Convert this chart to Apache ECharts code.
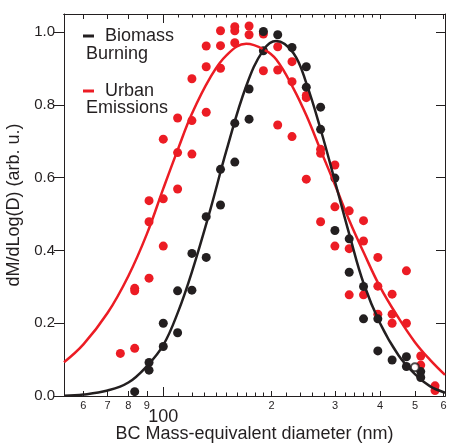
<!DOCTYPE html>
<html>
<head>
<meta charset="utf-8">
<script src="https://cdn.jsdelivr.net/npm/echarts@6/dist/echarts.min.js"></script>
<style>
  html, body { margin: 0; padding: 0; background: #fff; }
  #chart { width: 449px; height: 443px; }
</style>
</head>
<body>
<div id="chart"></div>
<script>
// size-bin centres (nm) and normalised mass values
const blackD = [83.3, 91.3, 91.3, 100, 100, 109.6, 109.6, 120.1, 120.1, 131.6, 131.6, 144.2, 144.2,
  158, 158, 173.1, 173.1, 189.7, 189.7, 207.9, 227.8, 249.6, 249.6, 273.5, 273.5, 299.7, 299.7,
  328.4, 328.4, 359.9, 359.9, 394.4, 394.4, 432.1, 473.5, 473.5, 518.9, 518.9]
const blackV = [0.012, 0.092, 0.071, 0.136, 0.200, 0.174, 0.289, 0.291, 0.392, 0.381, 0.493, 0.525, 0.623,
  0.643, 0.750, 0.761, 0.844, 0.949, 1.002, 0.993, 0.958, 0.905, 0.849, 0.794, 0.733, 0.599, 0.455,
  0.432, 0.340, 0.301, 0.212, 0.212, 0.124, 0.099, 0.108, 0.081, 0.067, 0.051]

const redD = [76.0, 83.3, 83.3, 83.3, 91.3, 91.3, 91.3, 100, 100, 100, 109.6, 109.6, 109.6,
  120.1, 120.1, 120.1, 131.6, 131.6, 131.6, 144.2, 144.2, 144.2, 158, 158, 158, 173.1, 173.1,
  189.7, 189.7, 207.9, 207.9, 207.9, 227.8, 227.8, 227.8, 249.6, 249.6, 249.6, 273.5, 273.5, 273.5,
  299.7, 299.7, 299.7, 328.4, 328.4, 328.4, 359.9, 359.9, 359.9, 394.4, 394.4, 394.4,
  432.1, 432.1, 432.1, 473.5, 473.5, 518.9, 518.9, 568.6, 568.6]
const redV = [0.117, 0.131, 0.289, 0.296, 0.324, 0.479, 0.537, 0.412, 0.542, 0.706, 0.569, 0.669, 0.764,
  0.665, 0.757, 0.872, 0.780, 0.905, 0.962, 0.901, 0.963, 1.004, 0.971, 1.004, 1.015, 0.993, 1.017,
  0.894, 0.995, 0.745, 0.896, 0.960, 0.713, 0.864, 0.919, 0.596, 0.820, 0.826, 0.479, 0.667, 0.678,
  0.412, 0.520, 0.635, 0.278, 0.405, 0.509, 0.278, 0.426, 0.482, 0.225, 0.302, 0.381,
  0.200, 0.225, 0.280, 0.200, 0.344, 0.085, 0.110, 0.015, 0.028]

// open marker
const openD = [500]
const openV = [0.079]

// fitted curves, read at these diameters
const fitD = [53, 60, 70, 80, 90, 100, 110, 120, 135, 150, 170, 190, 206, 230, 250, 275, 300, 330, 360, 400, 450, 500, 550, 606]
const blackFit = [0.001, 0.004, 0.015, 0.037, 0.082, 0.140, 0.232, 0.340, 0.511, 0.677, 0.852, 0.952, 0.976, 0.942, 0.858, 0.725, 0.589, 0.438, 0.310, 0.200, 0.112, 0.060, 0.027, 0.009]
const redFit = [0.093, 0.142, 0.228, 0.330, 0.445, 0.570, 0.680, 0.775, 0.875, 0.937, 0.968, 0.953, 0.925, 0.845, 0.770, 0.670, 0.580, 0.478, 0.395, 0.300, 0.215, 0.148, 0.100, 0.058]

// axis ticks
const majorTicks = [60, 70, 80, 90, 200, 300, 400, 500, 600]
const centreTick = [100]
const minorTicks = [110, 120, 130, 140, 150, 160, 170, 180, 190, 220, 240, 260, 280, 320, 340, 360, 380]
const yTicks = [0, 0.2, 0.4, 0.6, 0.8, 1.0]

const ink = '#231f20'
const red = '#ec1c24'
const font = 'Liberation Sans, Arial, Helvetica, sans-serif'

const chart = echarts.init(document.getElementById('chart'))

function xAxisDef(position, ticks, len, label) {
  return {
    type: 'log',
    logBase: 10,
    min: 53,
    max: 606,
    position: position,
    gridIndex: 0,
    splitLine: { show: false },
    minorTick: { show: false },
    axisLine: { show: true, onZero: false, lineStyle: { color: ink, width: 1 } },
    axisTick: { show: true, inside: true, length: len, customValues: ticks, lineStyle: { color: ink, width: 1 } },
    axisLabel: label || { show: false }
  }
}

const pairs = (xs, ys) => xs.map((x, i) => [x, ys[i]])

const option = {
  animation: false,
  backgroundColor: '#fff',
  textStyle: { fontFamily: font },
  grid: { left: 64, right: 4, top: 14, bottom: 47, containLabel: false, outerBoundsMode: 'none' },
  xAxis: [
    Object.assign(xAxisDef('bottom', majorTicks, 5, {
      show: true,
      customValues: majorTicks,
      margin: 4,
      fontSize: 11,
      color: ink,
      fontFamily: font,
      formatter: (v) => String(Math.round(v / Math.pow(10, Math.floor(Math.log10(v) + 1e-9))))
    }), {
      name: 'BC Mass-equivalent diameter (nm)',
      nameLocation: 'middle',
      nameGap: 29,
      nameTextStyle: { fontSize: 18, color: ink, fontFamily: font }
    }),
    xAxisDef('bottom', centreTick, 9, {
      show: true,
      customValues: centreTick,
      margin: 12,
      fontSize: 18,
      color: ink,
      fontFamily: font
    }),
    xAxisDef('bottom', minorTicks, 3.5),
    xAxisDef('top', majorTicks, 5),
    xAxisDef('top', centreTick, 9),
    xAxisDef('top', minorTicks, 3.5)
  ],
  yAxis: [
    {
      type: 'value',
      min: 0,
      max: 1.05,
      position: 'left',
      splitLine: { show: false },
      axisLine: { show: true, lineStyle: { color: ink, width: 1 } },
      axisTick: { show: true, inside: false, length: 10, customValues: yTicks, lineStyle: { color: ink, width: 1 } },
      axisLabel: {
        customValues: yTicks,
        margin: 9,
        fontSize: 15,
        color: ink,
        fontFamily: font,
        formatter: (v) => v.toFixed(1)
      },
      name: 'dM/dLog(D) (arb. u.)',
      nameLocation: 'middle',
      nameRotate: 90,
      nameGap: 25,
      nameTextStyle: { fontSize: 18, color: ink, fontFamily: font }
    },
    {
      type: 'value',
      min: 0,
      max: 1.05,
      position: 'right',
      splitLine: { show: false },
      axisLine: { show: true, lineStyle: { color: ink, width: 1 } },
      axisTick: { show: true, inside: true, length: 9, customValues: yTicks, lineStyle: { color: ink, width: 1 } },
      axisLabel: { show: false }
    }
  ],
  graphic: [
    { type: 'line', shape: { x1: 83, y1: 36, x2: 94, y2: 36 }, style: { stroke: ink, lineWidth: 3 } },
    { type: 'text', left: 105, top: 27, style: { text: 'Biomass', fill: ink, font: '18px ' + font } },
    { type: 'text', left: 86, top: 45, style: { text: 'Burning', fill: ink, font: '18px ' + font } },
    { type: 'line', shape: { x1: 83, y1: 91, x2: 94, y2: 91 }, style: { stroke: red, lineWidth: 3 } },
    { type: 'text', left: 105, top: 82, style: { text: 'Urban', fill: ink, font: '18px ' + font } },
    { type: 'text', left: 86, top: 99, style: { text: 'Emissions', fill: ink, font: '18px ' + font } }
  ],
  series: [
    {
      name: 'Urban Emissions',
      type: 'scatter',
      data: pairs(redD, redV),
      symbolSize: 9,
      itemStyle: { color: red, opacity: 1 }
    },
    {
      name: 'Biomass Burning',
      type: 'scatter',
      data: pairs(blackD, blackV),
      symbolSize: 9,
      itemStyle: { color: ink, opacity: 1 }
    },
    {
      type: 'scatter',
      data: pairs(openD, openV),
      symbol: 'emptyCircle',
      symbolSize: 8,
      itemStyle: { color: ink, borderWidth: 1.5 }
    },
    {
      type: 'line',
      data: pairs(fitD, redFit),
      smooth: 0.4,
      showSymbol: false,
      lineStyle: { color: red, width: 2.5 }
    },
    {
      type: 'line',
      data: pairs(fitD, blackFit),
      smooth: 0.4,
      showSymbol: false,
      lineStyle: { color: ink, width: 2.5 }
    }
  ]
}

chart.setOption(option)
</script>
</body>
</html>
